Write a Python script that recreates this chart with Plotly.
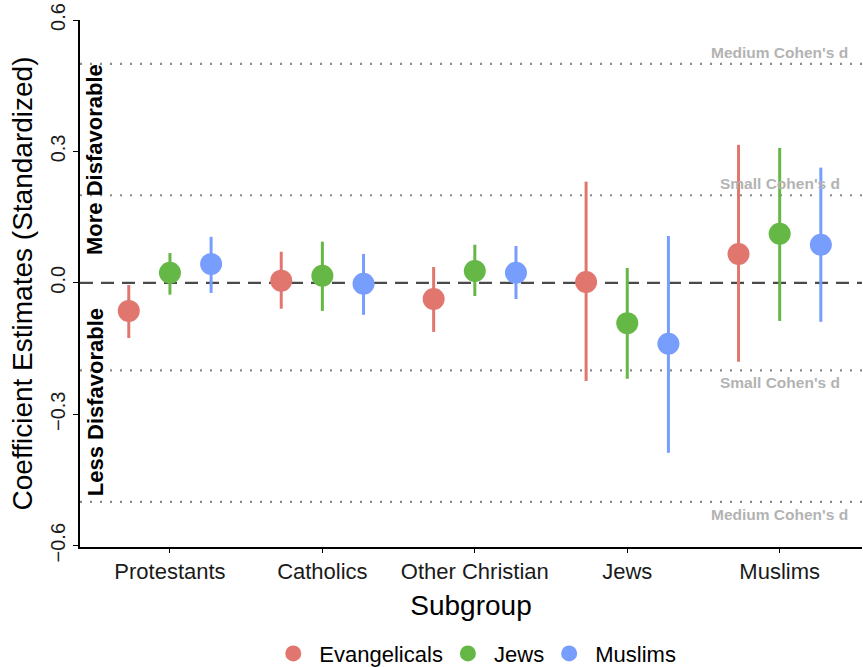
import numpy as np
import plotly.graph_objects as go

categories = ["Protestants", "Catholics", "Other Christian", "Jews", "Muslims"]
series = ["Evangelicals", "Jews", "Muslims"]
colors = ["#E0766E", "#66B846", "#779DFD"]
offsets = [-0.27, 0.0, 0.27]

est = {
    "Evangelicals": [-0.064, 0.005, -0.037, 0.002, 0.066],
    "Jews": [0.023, 0.016, 0.027, -0.092, 0.112],
    "Muslims": [0.043, -0.002, 0.023, -0.139, 0.087],
}
lo = {
    "Evangelicals": [-0.126, -0.059, -0.112, -0.224, -0.180],
    "Jews": [-0.027, -0.064, -0.030, -0.219, -0.087],
    "Muslims": [-0.023, -0.073, -0.037, -0.388, -0.089],
}
hi = {
    "Evangelicals": [-0.005, 0.071, 0.036, 0.231, 0.315],
    "Jews": [0.068, 0.094, 0.087, 0.034, 0.308],
    "Muslims": [0.105, 0.066, 0.084, 0.107, 0.263],
}

ref_lines = [0.5, 0.2, -0.2, -0.5]
ref_labels = ["Medium Cohen's d", "Small Cohen's d", "Small Cohen's d", "Medium Cohen's d"]
y_ticks = [0.6, 0.3, 0.0, -0.3, -0.6]
y_ticktext = ["0.6", "0.3", "0.0", "\u22120.3", "\u22120.6"]

FONT = "Liberation Sans, Arial, Helvetica, sans-serif"
fig = go.Figure()

base = np.arange(1, len(categories) + 1)
for s, c, off in zip(series, colors, offsets):
    y = np.array(est[s])
    fig.add_trace(go.Scatter(
        x=base + off, y=y, mode="markers", name="\u00a0" + s,
        marker=dict(size=22, color=c, line=dict(width=0)),
        error_y=dict(type="data", symmetric=False,
                     array=np.array(hi[s]) - y, arrayminus=y - np.array(lo[s]),
                     color=c, thickness=3, width=0),
        hoverinfo="skip",
    ))

shapes = []
for v in ref_lines:
    shapes.append(dict(type="line", xref="paper", x0=0, x1=1, yref="y", y0=v, y1=v,
                       line=dict(color="#8A8A8A", width=2.2, dash="2px,8px"), layer="below"))
shapes.append(dict(type="line", xref="paper", x0=0, x1=1, yref="y", y0=0, y1=0,
                   line=dict(color="#4A4A4A", width=2.4, dash="13px,8px"), layer="below"))

annotations = []
for v, t in zip(ref_lines, ref_labels):
    annotations.append(dict(x=5, y=v, xref="x", yref="y", text="<b>" + t + "</b>",
                            showarrow=False, font=dict(family=FONT, size=15.5, color="#B3B3B3"),
                            yanchor="bottom" if v > 0 else "top", yshift=1 if v > 0 else -2))
annotations.append(dict(x=0.51, y=0.281, xref="x", yref="y", text="<b>More Disfavorable</b>",
                        textangle=-90, showarrow=False, font=dict(family=FONT, size=22, color="black")))
annotations.append(dict(x=0.51, y=-0.272, xref="x", yref="y", text="<b>Less Disfavorable</b>",
                        textangle=-90, showarrow=False, font=dict(family=FONT, size=22, color="black")))

fig.update_layout(
    width=863, height=667,
    margin=dict(l=80, r=1, t=20, b=120, autoexpand=False),
    paper_bgcolor="white", plot_bgcolor="white",
    font=dict(family=FONT, color="black"),
    shapes=shapes, annotations=annotations,
    showlegend=True,
    legend=dict(orientation="h", x=0.508, xanchor="center", yref="container", y=0.02, yanchor="middle",
                font=dict(family=FONT, size=22, color="black"), itemsizing="trace",
                tracegroupgap=0),
)
fig.update_xaxes(
    range=[0.41, 5.54], tickvals=list(base), ticktext=categories, automargin=False,
    showgrid=False, zeroline=False, showline=True, linecolor="black", linewidth=1.5,
    ticks="outside", ticklen=4, tickcolor="black", tickwidth=1.2, ticklabelstandoff=0,
    tickfont=dict(family=FONT, size=22, color="#1A1A1A"),
    title=dict(text="Subgroup", font=dict(family=FONT, size=28, color="black"), standoff=12),
)
fig.update_yaxes(
    range=[-0.603, 0.6], tickvals=y_ticks, ticktext=y_ticktext, tickangle=-90, automargin=False,
    showgrid=False, zeroline=False, showline=True, linecolor="black", linewidth=1.5,
    ticks="outside", ticklen=5, tickcolor="black", tickwidth=1.2,
    tickfont=dict(family=FONT, size=20, color="#1A1A1A"),
    title=dict(text="Coefficient Estimates (Standardized)", font=dict(family=FONT, size=28, color="black"), standoff=6),
)

fig.write_html("out.html")
